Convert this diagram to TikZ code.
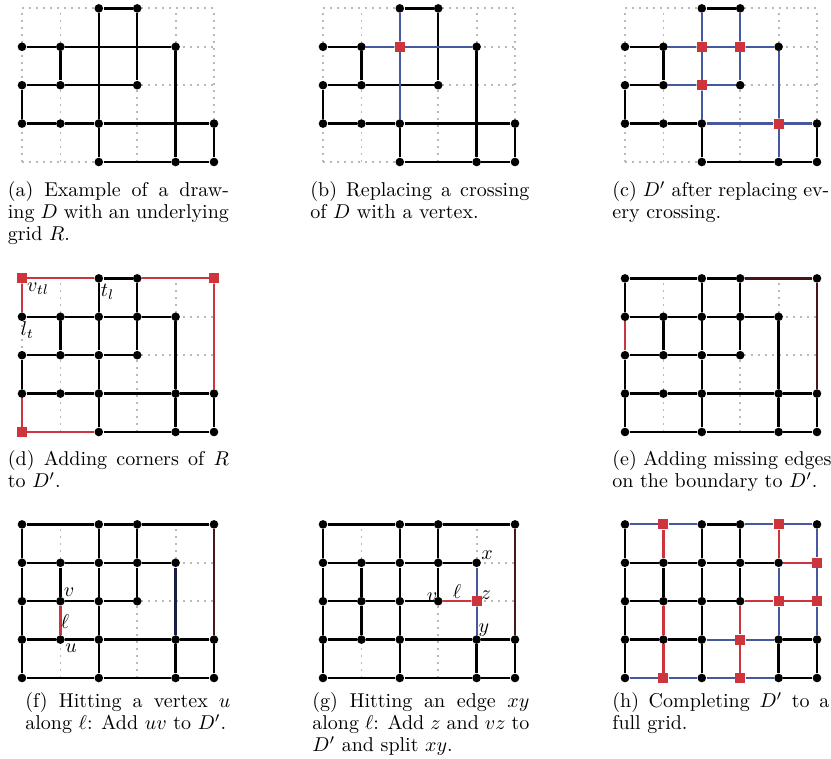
\documentclass[tikz,border=0pt]{standalone}
\usepackage{fontspec}
\pgfdeclarelayer{gridlayer}
\pgfdeclarelayer{edgelayer}
\pgfsetlayers{gridlayer,edgelayer,main}
\definecolor{myred}{RGB}{206,52,60}
\definecolor{myblue}{RGB}{72,88,158}
\definecolor{mydarkred}{RGB}{70,22,24}
\definecolor{mydarkblue}{RGB}{24,30,70}
\definecolor{mygray}{RGB}{185,185,185}
\tikzset{
  vdot/.style={circle, fill=black, inner sep=0pt, minimum size=4.3pt},
  sq/.style={rectangle, fill=myred, inner sep=0pt, minimum size=5pt},
  blk/.style={line width=1.25pt, black},
  rededge/.style={line width=1.1pt, myred},
  blueedge/.style={line width=1.1pt, myblue},
  dredge/.style={line width=1.25pt, mydarkred},
  dbedge/.style={line width=1.25pt, mydarkblue},
  gridline/.style={line width=0.9pt, mygray, dash pattern=on 0.9pt off 2.6pt},
  lab/.style={inner sep=0pt, font=\fontsize{10pt}{12pt}\selectfont},
  capbox/.style={anchor=north west, inner sep=0pt, align=justify, font=\fontsize{10pt}{11pt}\selectfont},
  panel/.style={x=19.2pt, y=19.2pt}
}
\newcommand{\rgrid}{%
  \begin{pgfonlayer}{gridlayer}
    \foreach \i in {0,...,5} \draw[gridline] (\i,0) -- (\i,4);
    \foreach \j in {0,...,4} \draw[gridline] (0,\j) -- (5,\j);
  \end{pgfonlayer}}
\newcommand{\baseedges}{24/23,23/22,22/21,21/20,34/33,33/32,03/13,13/23,23/33,33/43,13/12,02/12,12/22,22/32,01/11,11/21,21/41,41/51,41/40,20/40,40/50,51/50,24/34,02/01}
\begin{document}
\begin{tikzpicture}[x=0.5pt, y=-0.5pt]
\useasboundingbox (0,0) rectangle (831,759);

% (a)
\begin{scope}[xshift=11pt, yshift=-81pt, panel]
  \foreach \i/\j in {2/4,3/4,0/3,1/3,4/3,0/2,1/2,3/2,0/1,1/1,2/1,5/1,2/0,4/0,5/0}
    \node[vdot] (a\i\j) at (\i,\j) {};
  \rgrid
  \begin{pgfonlayer}{edgelayer}
    \foreach \p/\q in {24/34,24/21,34/32,03/13,13/43,13/12,02/12,12/32,02/01,01/11,11/21,21/51,43/40,21/20,20/40,40/50,51/50}
      \draw[blk] (a\p) -- (a\q);
  \end{pgfonlayer}
\end{scope}

% (b)
\begin{scope}[xshift=161.5pt, yshift=-81pt, panel]
  \foreach \i/\j in {2/4,3/4,0/3,1/3,4/3,0/2,1/2,3/2,0/1,1/1,2/1,5/1,2/0,4/0,5/0}
    \node[vdot] (b\i\j) at (\i,\j) {};
  \node[sq] (b23) at (2,3) {};
  \rgrid
  \begin{pgfonlayer}{edgelayer}
    \foreach \p/\q in {24/34,34/32,03/13,13/12,02/12,12/32,02/01,01/11,11/21,21/51,43/40,21/20,20/40,40/50,51/50}
      \draw[blk] (b\p) -- (b\q);
    \foreach \p/\q in {24/23,23/21,13/23,23/43}
      \draw[blueedge] (b\p) -- (b\q);
  \end{pgfonlayer}
\end{scope}

% (c)
\begin{scope}[xshift=312.5pt, yshift=-81pt, panel]
  \foreach \i/\j in {2/4,3/4,0/3,1/3,4/3,0/2,1/2,3/2,0/1,1/1,2/1,5/1,2/0,4/0,5/0}
    \node[vdot] (c\i\j) at (\i,\j) {};
  \foreach \i/\j in {2/3,3/3,2/2,4/1}
    \node[sq] (c\i\j) at (\i,\j) {};
  \rgrid
  \begin{pgfonlayer}{edgelayer}
    \foreach \p/\q in {24/34,03/13,13/12,02/12,02/01,01/11,11/21,21/20,20/40,40/50,51/50}
      \draw[blk] (c\p) -- (c\q);
    \foreach \p/\q in {24/23,23/22,22/21,34/33,33/32,13/23,23/33,33/43,12/22,22/32,21/41,41/51,43/41,41/40}
      \draw[blueedge] (c\p) -- (c\q);
  \end{pgfonlayer}
\end{scope}

% (d)
\begin{scope}[xshift=11pt, yshift=-216pt, panel]
  \foreach \i/\j in {2/4,3/4,0/3,1/3,2/3,3/3,4/3,0/2,1/2,2/2,3/2,0/1,1/1,2/1,4/1,5/1,2/0,4/0,5/0}
    \node[vdot] (d\i\j) at (\i,\j) {};
  \foreach \i/\j in {0/4,5/4,0/0}
    \node[sq] (d\i\j) at (\i,\j) {};
  \rgrid
  \begin{pgfonlayer}{edgelayer}
    \foreach \p/\q in \baseedges \draw[blk] (d\p) -- (d\q);
    \draw[blk] (d43) -- (d41);
    \foreach \p/\q in {04/24,34/54,54/51,04/03,01/00,00/20}
      \draw[rededge] (d\p) -- (d\q);
  \end{pgfonlayer}
\end{scope}

% (e)
\begin{scope}[xshift=312.5pt, yshift=-216pt, panel]
  \foreach \i/\j in {0/4,2/4,3/4,5/4,0/3,1/3,2/3,3/3,4/3,0/2,1/2,2/2,3/2,0/1,1/1,2/1,4/1,5/1,0/0,2/0,4/0,5/0}
    \node[vdot] (e\i\j) at (\i,\j) {};
  \rgrid
  \begin{pgfonlayer}{edgelayer}
    \foreach \p/\q in \baseedges \draw[blk] (e\p) -- (e\q);
    \foreach \p/\q in {43/41,04/24,04/03,01/00,00/20}
      \draw[blk] (e\p) -- (e\q);
    \draw[rededge] (e03) -- (e02);
    \foreach \p/\q in {34/54,54/51}
      \draw[dredge] (e\p) -- (e\q);
  \end{pgfonlayer}
\end{scope}

% (f)
\begin{scope}[xshift=11pt, yshift=-339pt, panel]
  \foreach \i/\j in {0/4,2/4,3/4,5/4,0/3,1/3,2/3,3/3,4/3,0/2,1/2,2/2,3/2,0/1,1/1,2/1,4/1,5/1,0/0,2/0,4/0,5/0}
    \node[vdot] (f\i\j) at (\i,\j) {};
  \rgrid
  \begin{pgfonlayer}{edgelayer}
    \foreach \p/\q in \baseedges \draw[blk] (f\p) -- (f\q);
    \foreach \p/\q in {04/24,04/03,03/02,01/00,00/20,34/54}
      \draw[blk] (f\p) -- (f\q);
    \draw[rededge] (f12) -- (f11);
    \draw[dredge] (f54) -- (f51);
    \draw[dbedge] (f43) -- (f41);
  \end{pgfonlayer}
\end{scope}

% (g)
\begin{scope}[xshift=161.5pt, yshift=-339pt, panel]
  \foreach \i/\j in {0/4,2/4,3/4,5/4,0/3,1/3,2/3,3/3,4/3,0/2,1/2,2/2,3/2,0/1,1/1,2/1,4/1,5/1,0/0,2/0,4/0,5/0}
    \node[vdot] (g\i\j) at (\i,\j) {};
  \node[sq] (g42) at (4,2) {};
  \rgrid
  \begin{pgfonlayer}{edgelayer}
    \foreach \p/\q in \baseedges \draw[blk] (g\p) -- (g\q);
    \foreach \p/\q in {04/24,04/03,03/02,01/00,00/20,34/54,12/11}
      \draw[blk] (g\p) -- (g\q);
    \draw[rededge] (g32) -- (g42);
    \foreach \p/\q in {43/42,42/41}
      \draw[blueedge] (g\p) -- (g\q);
    \draw[dredge] (g54) -- (g51);
  \end{pgfonlayer}
\end{scope}

% (h)
\begin{scope}[xshift=312.5pt, yshift=-339pt, panel]
  \foreach \i/\j in {0/4,2/4,3/4,5/4,0/3,1/3,2/3,3/3,4/3,0/2,1/2,2/2,3/2,0/1,1/1,2/1,4/1,5/1,0/0,2/0,4/0,5/0}
    \node[vdot] (h\i\j) at (\i,\j) {};
  \foreach \i/\j in {1/4,4/4,5/3,4/2,5/2,3/1,1/0,3/0}
    \node[sq] (h\i\j) at (\i,\j) {};
  \begin{pgfonlayer}{edgelayer}
    \foreach \p/\q in {24/34,03/13,13/23,23/33,33/43,02/12,12/22,22/32,01/11,11/21,41/51,40/50,04/03,03/02,02/01,01/00,13/12,24/23,23/22,22/21,21/20,34/33,33/32,41/40,51/50}
      \draw[blk] (h\p) -- (h\q);
    \foreach \p/\q in {04/14,14/24,34/44,44/54,21/31,31/41,00/10,10/20,20/30,30/40,43/42,42/41,54/53,53/52,52/51}
      \draw[blueedge] (h\p) -- (h\q);
    \foreach \p/\q in {43/53,32/42,42/52,14/13,12/11,11/10,32/31,31/30,44/43}
      \draw[rededge] (h\p) -- (h\q);
  \end{pgfonlayer}
\end{scope}

% labels
\node[lab] (lvtl) at (38,288.5) {$v_{tl}$};
\node[lab] (ltl) at (107.5,292) {$t_l$};
\node[lab] (llt) at (27.5,330.5) {$l_t$};
\node[lab] (lfv) at (69,592) {$v$};
\node[lab] (lfl) at (65,622) {$\ell$};
\node[lab] (lfu) at (71,648) {$u$};
\node[lab] (lgx) at (487,555) {$x$};
\node[lab] (lgz) at (486,595) {$z$};
\node[lab] (lgy) at (484,630) {$y$};
\node[lab] (lgv) at (432,597) {$v$};
\node[lab] (lgl) at (457,592) {$\ell$};

% captions
\node[capbox, text width=110.5pt] (capa) at (7.5,181.5) {\noindent(a) Example of a draw-\linebreak ing $D$ with an underlying\linebreak grid $R$.};
\node[capbox, text width=109.5pt] (capb) at (310,181.5) {\noindent(b) Replacing a crossing\linebreak of $D$ with a vertex.};
\node[capbox, text width=108.5pt] (capc) at (612,181.5) {\noindent(c) $D'$ after replacing ev-\linebreak ery crossing.};
\node[capbox, text width=110.5pt] (capd) at (7.5,450) {\noindent(d) Adding corners of $R$\linebreak to $D'$.};
\node[capbox, text width=109.5pt] (cape) at (612,450) {\noindent(e) Adding missing edges\linebreak on the boundary to $D'$.};
\node[capbox, text width=102.5pt] (capf) at (25,692) {\noindent(f) Hitting a vertex $u$\linebreak along $\ell$: Add $uv$ to $D'$.};
\node[capbox, text width=108.5pt] (capg) at (312,692) {\noindent(g) Hitting an edge $xy$\linebreak along $\ell$: Add $z$ and $vz$ to\linebreak $D'$ and split $xy$.};
\node[capbox, text width=108.5pt] (caph) at (612,692) {\noindent(h) Completing $D'$ to a\linebreak full grid.};
\end{tikzpicture}
\end{document}
